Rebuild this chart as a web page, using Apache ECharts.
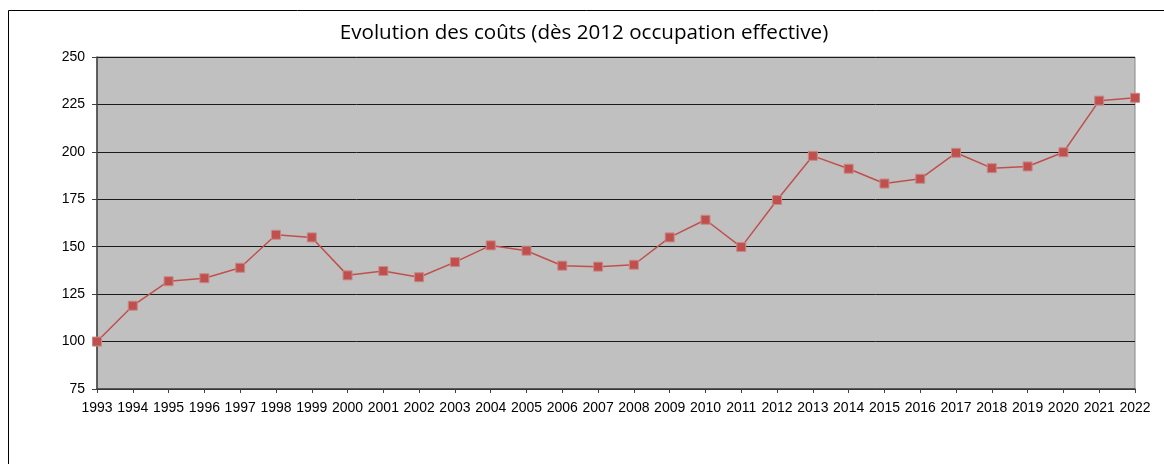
<!DOCTYPE html>
<html>
<head>
<meta charset="utf-8">
<script src="https://cdn.jsdelivr.net/npm/echarts@6/dist/echarts.min.js"></script>
<style>
html,body{margin:0;padding:0;background:#fff;}
#c{width:1164px;height:464px;}
</style>
</head>
<body>
<div id="c"></div>
<script>
var titleText = 'Evolution des coûts (dès 2012 occupation effective)';
var years = ['1993','1994','1995','1996','1997','1998','1999','2000','2001','2002','2003','2004','2005','2006','2007','2008','2009','2010','2011','2012','2013','2014','2015','2016','2017','2018','2019','2020','2021','2022'];
var costs = [100, 118.9, 131.8, 133.4, 138.9, 156.3, 154.9, 134.9, 137.2, 133.9, 141.9, 150.7, 147.9, 140.0, 139.5, 140.5, 154.9, 164.2, 149.8, 174.6, 197.9, 191.1, 183.3, 185.8, 199.5, 191.4, 192.3, 199.8, 227.0, 228.5];
var yMin = 75, yMax = 250, yStep = 25;

var chart = echarts.init(document.getElementById('c'), null, {renderer:'canvas'});
chart.setOption({
  animation: false,
  backgroundColor: '#ffffff',
  title: {
    text: titleText,
    left: 579, top: 18, textAlign: 'center',
    textStyle: {fontFamily: 'Open Sans', fontSize: 20.6, fontWeight: 'normal', color: '#000'}
  },
  graphic: [{
    type: 'rect', silent: true, z: -1,
    shape: {x: 8.5, y: 10.5, width: 1200, height: 600},
    style: {fill: 'none', stroke: '#000', lineWidth: 1}
  }],
  grid: {
    left: 97, right: 29, top: 57, bottom: 75,
    show: true, backgroundColor: '#c0c0c0', borderColor: '#888888', borderWidth: 1
  },
  xAxis: {
    type: 'category', data: years, boundaryGap: false,
    axisLine: {show: true, lineStyle: {color: '#404040', width: 1.5}},
    axisTick: {show: true, inside: false, length: 4, alignWithLabel: true, interval: 0, lineStyle: {color: '#404040'}},
    axisLabel: {interval: 0, fontFamily: 'Liberation Sans', fontSize: 14, color: '#000', margin: 12},
    splitLine: {show: false}
  },
  yAxis: {
    type: 'value', min: yMin, max: yMax, interval: yStep,
    axisLine: {show: true, lineStyle: {color: '#404040', width: 1.5}},
    axisTick: {show: true, inside: false, length: 5, lineStyle: {color: '#404040'}},
    axisLabel: {fontFamily: 'Liberation Sans', fontSize: 14, color: '#000', margin: 12},
    splitLine: {show: true, lineStyle: {color: '#1a1a1a', width: 1}}
  },
  series: [{
    type: 'line', data: costs,
    symbol: 'rect', symbolSize: 9,
    itemStyle: {color: '#c0504d', borderColor: '#c98886', borderWidth: 1},
    lineStyle: {color: '#c0504d', width: 1.5}
  }]
});
</script>
</body>
</html>
